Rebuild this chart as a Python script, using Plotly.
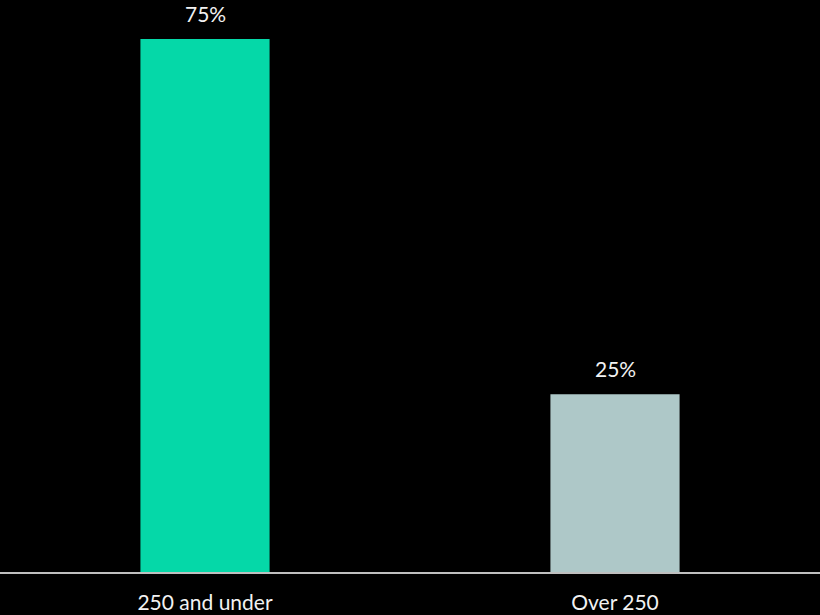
import plotly.graph_objects as go

# Share of respondents by size band
categories = ["250 and under", "Over 250"]
shares = [75, 25]
bar_colors = ["#05D8A8", "#AEC8C8"]

fig = go.Figure()
fig.add_trace(go.Bar(
    x=categories,
    y=shares,
    marker=dict(color=bar_colors, line=dict(width=0)),
    width=0.315,
    hoverinfo="skip",
))

# Value labels above each bar
for cat, val in zip(categories, shares):
    fig.add_annotation(
        x=cat, y=val, text=f"{val}%",
        showarrow=False, yanchor="bottom", yshift=11,
        font=dict(family="Lato", size=21, color="#F2F2F2"),
    )

fig.update_layout(
    width=820, height=615,
    margin=dict(l=0, r=0, t=0, b=43, autoexpand=False),
    paper_bgcolor="#000000",
    plot_bgcolor="#000000",
    showlegend=False,
    xaxis=dict(
        showline=True, linecolor="#BFBFBF", linewidth=2,
        showgrid=False, zeroline=False, ticks="",
        automargin=False,
        ticklabelstandoff=11,
        tickfont=dict(family="Lato", size=21, color="#F2F2F2"),
    ),
    yaxis=dict(
        range=[0, 80.5], visible=False, showgrid=False, zeroline=False,
        automargin=False,
    ),
)

fig.write_html("out.html")
